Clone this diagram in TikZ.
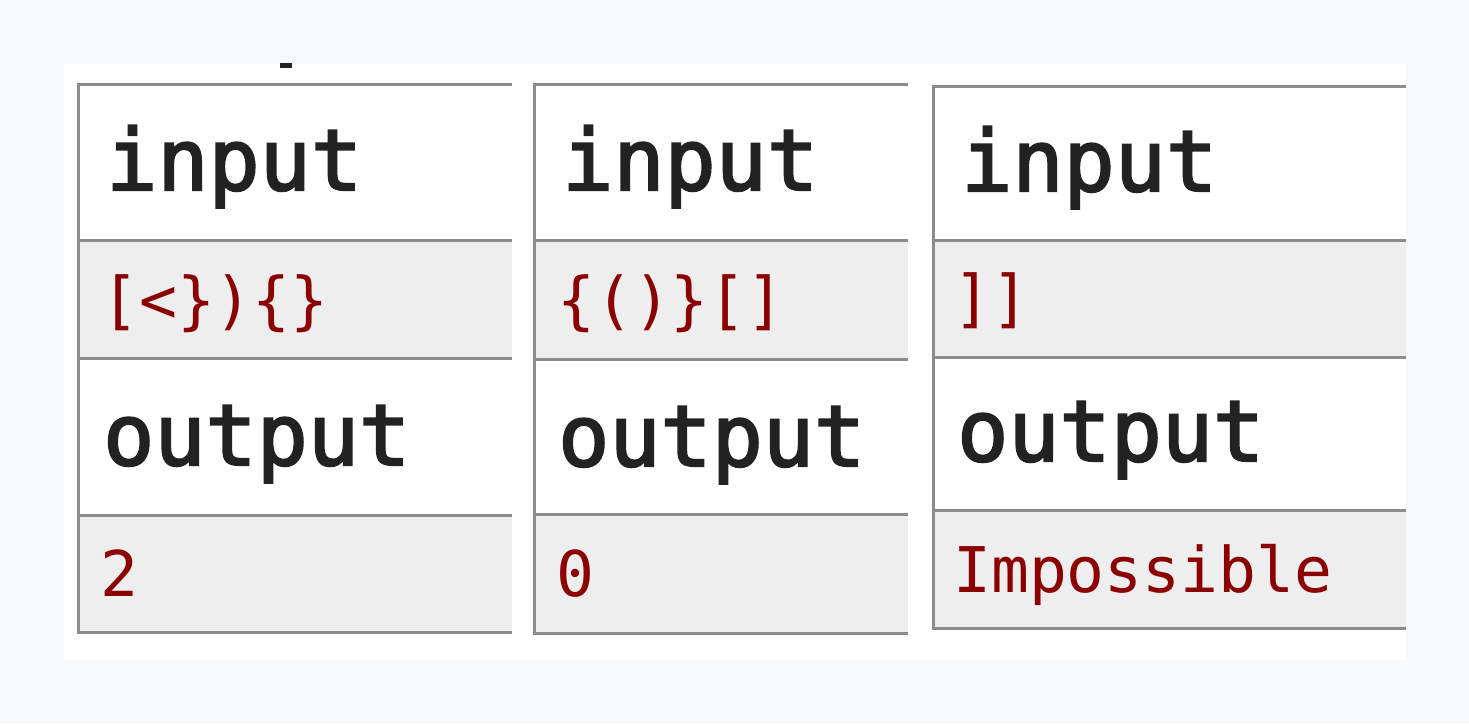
\documentclass[tikz,border=0pt]{standalone}
\usepackage{fontspec}
\newfontfamily\monofam{DejaVu Sans Mono}
\newfontfamily\monobold[FakeBold=2.5]{DejaVu Sans Mono}
\definecolor{bgc}{HTML}{F8F9FB}
\definecolor{rulec}{HTML}{8C8C8C}
\definecolor{cellc}{HTML}{EEEEEE}
\definecolor{redc}{HTML}{8B0000}
\definecolor{headc}{HTML}{222222}
\tikzset{
  hdr/.style={anchor=base west, inner sep=0pt, text=headc, font=\monobold\fontsize{85}{85}\selectfont},
  val/.style={anchor=base west, inner sep=0pt, text=redc, font=\monofam\fontsize{63}{63}\selectfont},
  rulel/.style={draw=rulec, line width=3pt},
}
\begin{document}
\begin{tikzpicture}[x=1pt,y=-1pt]
\fill[bgc] (0,0) rectangle (1469,724);
\useasboundingbox (0,0) rectangle (1469,724);
\fill[white] (64,64) rectangle (1406,660);
\fill[headc] (280,63) rectangle (292,68);
% table 1
\fill[cellc] (78,240) rectangle (512,358);
\fill[cellc] (78,515) rectangle (512,632);
\draw[rulel] (512,84) -- (78,84) -- (78,632) -- (512,632);
\draw[rulel] (78,240) -- (512,240);
\draw[rulel] (78,358) -- (512,358);
\draw[rulel] (78,515) -- (512,515);
\node[hdr] (t1in) at (106,190) {input};
\node[val] (t1iv) at (101,322) {[<\})\{\}};
\node[hdr] (t1out) at (103,465) {output};
\node[val] (t1ov) at (100,596) {2};
% table 2
\fill[cellc] (534,240) rectangle (908,359);
\fill[cellc] (534,514) rectangle (908,633);
\draw[rulel] (908,84) -- (534,84) -- (534,633) -- (908,633);
\draw[rulel] (534,240) -- (908,240);
\draw[rulel] (534,359) -- (908,359);
\draw[rulel] (534,514) -- (908,514);
\node[hdr] (t2in) at (562,190) {input};
\node[val] (t2iv) at (557,322) {\{()\}[]};
\node[hdr] (t2out) at (558,466) {output};
\node[val] (t2ov) at (556,596) {0};
% table 3
\fill[cellc] (933,240) rectangle (1406,357);
\fill[cellc] (933,510) rectangle (1406,628);
\draw[rulel] (1406,86) -- (933,86) -- (933,628) -- (1406,628);
\draw[rulel] (933,240) -- (1406,240);
\draw[rulel] (933,357) -- (1406,357);
\draw[rulel] (933,510) -- (1406,510);
\node[hdr] (t3in) at (961,191) {input};
\node[val] (t3iv) at (953,320) {]]};
\node[hdr] (t3out) at (957,461) {output};
\node[val] (t3ov) at (953,592) {Impossible};
\end{tikzpicture}
\end{document}
